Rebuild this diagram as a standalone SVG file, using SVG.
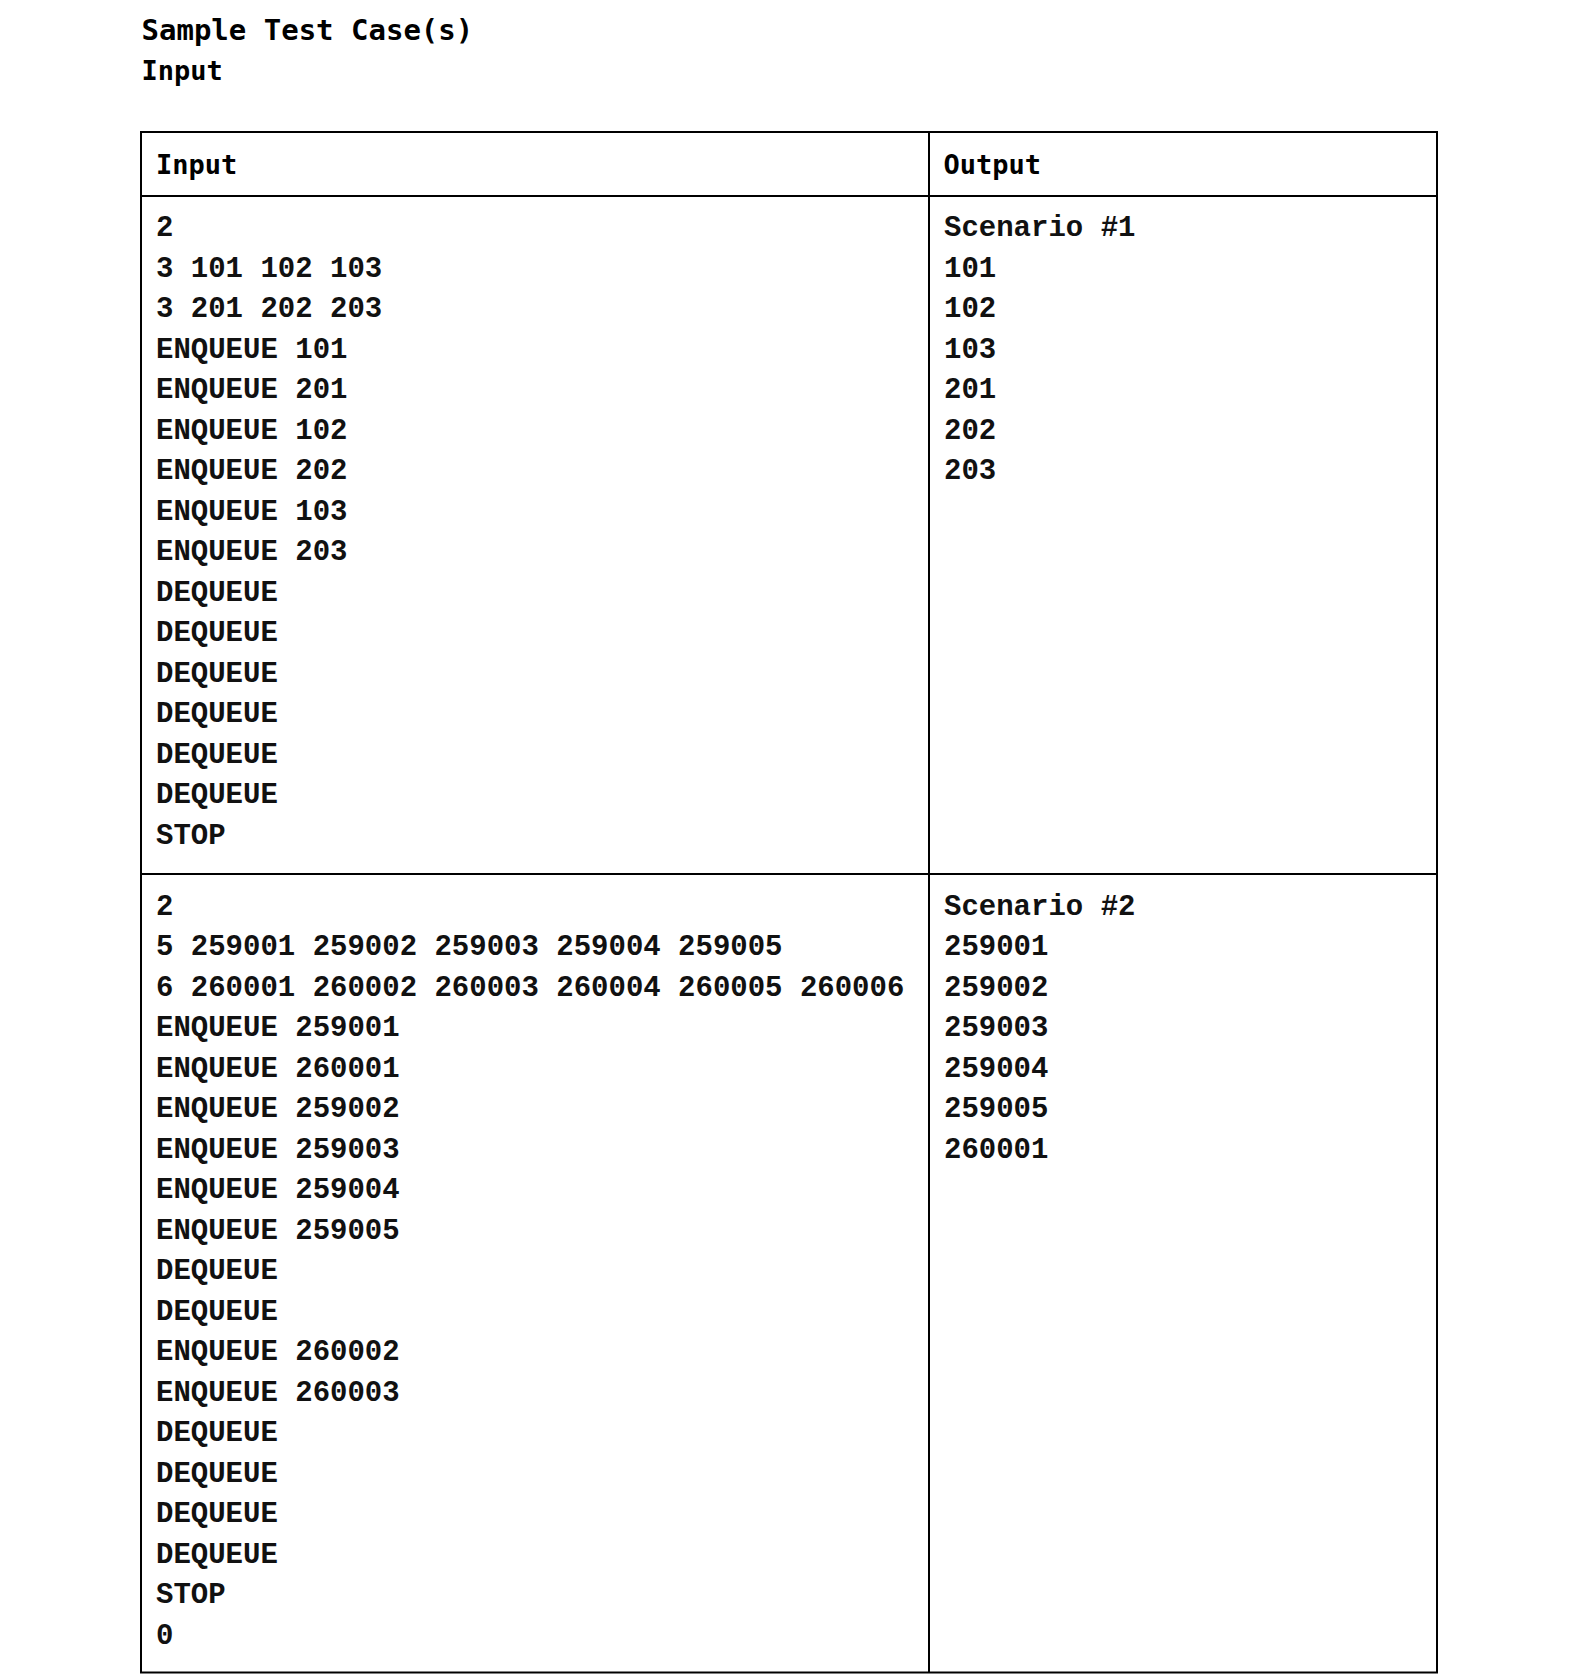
<svg xmlns="http://www.w3.org/2000/svg" width="1579" height="1680" viewBox="0 0 1579 1680">
<style>
.h{font-family:"DejaVu Sans Mono","Liberation Mono",monospace;font-weight:bold;fill:#000}
.b{font-family:"Liberation Mono","Courier New",monospace;font-weight:bold;font-size:29px;fill:#111}
.ln{stroke:#000;stroke-width:2;fill:none}
</style>
<rect width="1579" height="1680" fill="#fff"/>
<g id="titles">
<text class="h" x="141.5" y="39.5" font-size="29">Sample Test Case(s)</text>
<text class="h" x="141.5" y="79.5" font-size="27">Input</text>
</g>
<g id="table-lines">
<rect class="ln" x="141" y="132" width="1296" height="1540.5" stroke-width="2.5"/>
<line class="ln" x1="141" y1="196" x2="1437" y2="196"/>
<line class="ln" x1="141" y1="874" x2="1437" y2="874"/>
<line class="ln" x1="929" y1="132" x2="929" y2="1672.5"/>
</g>
<g id="header">
<text class="h" x="156" y="174" font-size="27">Input</text>
<text class="h" x="943.5" y="174" font-size="27">Output</text>
</g>
<g id="input-1">
<text class="b" x="156" y="236">2</text>
<text class="b" x="156" y="276.5">3 101 102 103</text>
<text class="b" x="156" y="317">3 201 202 203</text>
<text class="b" x="156" y="357.5">ENQUEUE 101</text>
<text class="b" x="156" y="398">ENQUEUE 201</text>
<text class="b" x="156" y="438.5">ENQUEUE 102</text>
<text class="b" x="156" y="479">ENQUEUE 202</text>
<text class="b" x="156" y="519.5">ENQUEUE 103</text>
<text class="b" x="156" y="560">ENQUEUE 203</text>
<text class="b" x="156" y="600.5">DEQUEUE</text>
<text class="b" x="156" y="641">DEQUEUE</text>
<text class="b" x="156" y="681.5">DEQUEUE</text>
<text class="b" x="156" y="722">DEQUEUE</text>
<text class="b" x="156" y="762.5">DEQUEUE</text>
<text class="b" x="156" y="803">DEQUEUE</text>
<text class="b" x="156" y="843.5">STOP</text>
</g>
<g id="output-1">
<text class="b" x="944" y="236">Scenario #1</text>
<text class="b" x="944" y="276.5">101</text>
<text class="b" x="944" y="317">102</text>
<text class="b" x="944" y="357.5">103</text>
<text class="b" x="944" y="398">201</text>
<text class="b" x="944" y="438.5">202</text>
<text class="b" x="944" y="479">203</text>
</g>
<g id="input-2">
<text class="b" x="156" y="914.5">2</text>
<text class="b" x="156" y="955">5 259001 259002 259003 259004 259005</text>
<text class="b" x="156" y="995.5">6 260001 260002 260003 260004 260005 260006</text>
<text class="b" x="156" y="1036">ENQUEUE 259001</text>
<text class="b" x="156" y="1076.5">ENQUEUE 260001</text>
<text class="b" x="156" y="1117">ENQUEUE 259002</text>
<text class="b" x="156" y="1157.5">ENQUEUE 259003</text>
<text class="b" x="156" y="1198">ENQUEUE 259004</text>
<text class="b" x="156" y="1238.5">ENQUEUE 259005</text>
<text class="b" x="156" y="1279">DEQUEUE</text>
<text class="b" x="156" y="1319.5">DEQUEUE</text>
<text class="b" x="156" y="1360">ENQUEUE 260002</text>
<text class="b" x="156" y="1400.5">ENQUEUE 260003</text>
<text class="b" x="156" y="1441">DEQUEUE</text>
<text class="b" x="156" y="1481.5">DEQUEUE</text>
<text class="b" x="156" y="1522">DEQUEUE</text>
<text class="b" x="156" y="1562.5">DEQUEUE</text>
<text class="b" x="156" y="1603">STOP</text>
<text class="b" x="156" y="1643.5">0</text>
</g>
<g id="output-2">
<text class="b" x="944" y="914.5">Scenario #2</text>
<text class="b" x="944" y="955">259001</text>
<text class="b" x="944" y="995.5">259002</text>
<text class="b" x="944" y="1036">259003</text>
<text class="b" x="944" y="1076.5">259004</text>
<text class="b" x="944" y="1117">259005</text>
<text class="b" x="944" y="1157.5">260001</text>
</g>
</svg>
